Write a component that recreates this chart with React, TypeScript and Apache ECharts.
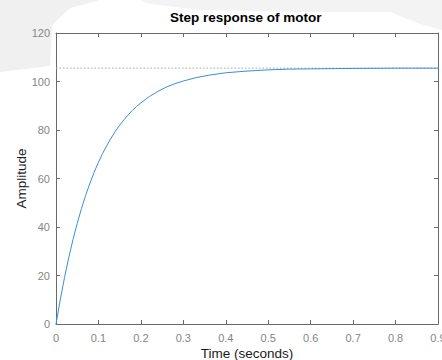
import React, { useEffect, useRef } from "react";
import * as echarts from "echarts";

const timeValues: number[] = [
  0, 0.01, 0.02, 0.03, 0.04, 0.05, 0.06, 0.07, 0.08, 0.09, 0.1, 0.11, 0.12, 0.13,
  0.14, 0.15, 0.16, 0.17, 0.18, 0.19, 0.2, 0.22, 0.24, 0.26, 0.28, 0.3, 0.33, 0.36,
  0.4, 0.45, 0.5, 0.55, 0.6, 0.7, 0.8, 0.9,
];
const amplitudeValues: number[] = [
  0, 10.0, 19.1, 27.3, 34.8, 41.5, 47.6, 53.1, 58.1, 62.6, 66.7, 70.4, 73.7, 76.7,
  79.5, 82.0, 84.2, 86.2, 88.1, 89.7, 91.2, 93.8, 95.9, 97.7, 99.1, 100.2, 101.6, 102.6,
  103.6, 104.3, 104.8, 105.1, 105.2, 105.4, 105.5, 105.5,
];
const finalValue = 105.5;
const xRange: number[] = [0, 0.9];
const yRange: number[] = [0, 120];
const titleText = "Step response of motor";
const xAxisName = "Time (seconds)";
const yAxisName = "Amplitude";

const FONT = '"Liberation Sans", Arial, Helvetica, sans-serif';
const AXIS_COLOR = "#6a6a6a";
const LABEL_COLOR = "#858585";

export default function App() {
  const ref = useRef<HTMLDivElement>(null);
  useEffect(() => {
    if (!ref.current) return;
    const chart = echarts.init(ref.current, undefined, { renderer: "svg" });
    const curve = timeValues.map((t, i) => [t, amplitudeValues[i]]);
    const finalLine = xRange.map((t) => [t, finalValue]);
    const axisCommon = {
      type: "value" as const,
      splitLine: { show: false },
      nameMoveOverlap: false,
      axisLine: { show: true, onZero: false, lineStyle: { color: AXIS_COLOR, width: 1 } },
      axisTick: { show: true, inside: true, length: 4, lineStyle: { color: AXIS_COLOR } },
    };
    chart.setOption({
      animation: false,
      backgroundColor: "#ffffff",
      title: {
        text: titleText,
        left: 170,
        top: 10,
        padding: 0,
        textStyle: { fontFamily: FONT, fontSize: 13.5, fontWeight: "bold", color: "#000000" },
      },
      graphic: [
        {
          type: "polygon",
          z: -10,
          shape: { points: [[0, 0], [100, 0], [70, 8], [52, 25], [50, 66], [0, 72]] },
          style: { fill: "#f0f0f0" },
        },
        {
          type: "polygon",
          z: -10,
          shape: { points: [[140, 0], [442, 0], [442, 30], [420, 24], [390, 12], [300, 12], [200, 10], [150, 4]] },
          style: { fill: "#f3f3f3" },
        },
      ],
      grid: {
        left: 56,
        right: 4,
        top: 33,
        bottom: 36,
        show: true,
        backgroundColor: "#ffffff",
        borderWidth: 0,
        containLabel: false,
        outerBoundsMode: "none",
      },
      xAxis: [
        {
          ...axisCommon,
          position: "bottom",
          min: xRange[0],
          max: xRange[1],
          interval: 0.1,
          name: xAxisName,
          nameLocation: "middle",
          nameGap: 22,
          nameTextStyle: { fontFamily: FONT, fontSize: 13.5, color: "#1a1a1a" },
          axisLabel: {
            color: LABEL_COLOR,
            fontFamily: FONT,
            fontSize: 11,
            margin: 8,
            formatter: (v: number) => String(Math.round(v * 10) / 10),
          },
        },
        {
          ...axisCommon,
          position: "top",
          min: xRange[0],
          max: xRange[1],
          interval: 0.1,
          axisLabel: { show: false },
        },
      ],
      yAxis: [
        {
          ...axisCommon,
          position: "left",
          min: yRange[0],
          max: yRange[1],
          interval: 20,
          name: yAxisName,
          nameLocation: "middle",
          nameGap: 28,
          nameTextStyle: { fontFamily: FONT, fontSize: 13.5, color: "#1a1a1a" },
          axisLabel: { color: LABEL_COLOR, fontFamily: FONT, fontSize: 11, margin: 6 },
        },
        {
          ...axisCommon,
          position: "right",
          min: yRange[0],
          max: yRange[1],
          interval: 20,
          axisLabel: { show: false },
        },
      ],
      series: [
        {
          type: "line",
          data: finalLine,
          symbol: "none",
          silent: true,
          lineStyle: { color: "#a8a8a8", width: 1, type: [1.5, 2] },
          z: 1,
        },
        {
          type: "line",
          data: curve,
          symbol: "none",
          silent: true,
          lineStyle: { color: "#3a8ed6", width: 1 },
          z: 2,
        },
      ],
    });
    return () => chart.dispose();
  }, []);
  return (
    <div
      ref={ref}
      style={{ position: "fixed", left: 0, top: 0, width: 442, height: 360 }}
    />
  );
}
